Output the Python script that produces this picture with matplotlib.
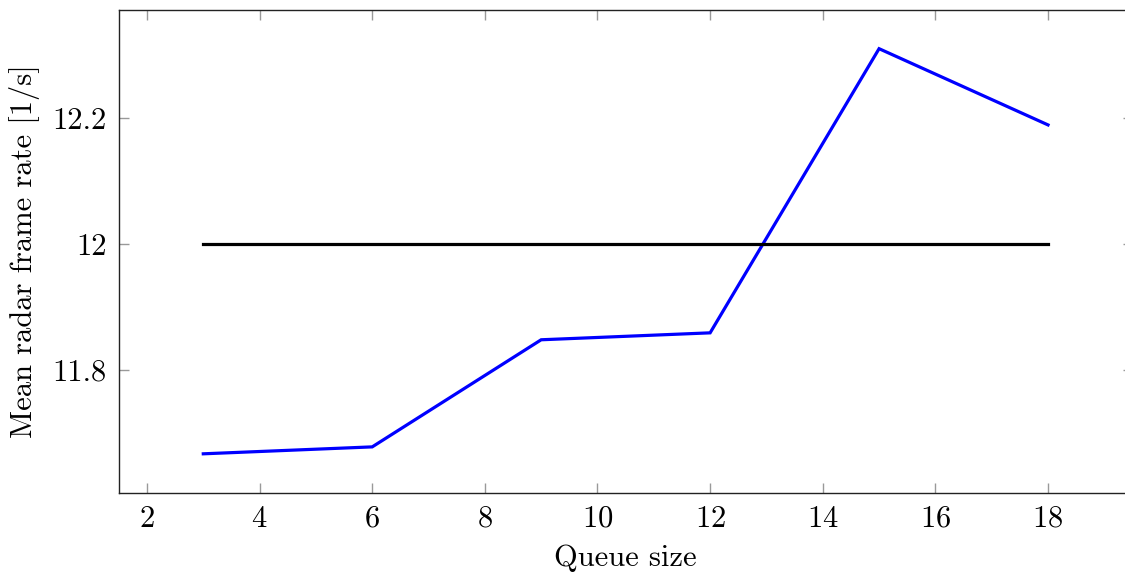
import matplotlib
matplotlib.use("Agg")
import matplotlib.pyplot as plt

# Measured mean radar frame rate for each queue size
queue_sizes = [3, 6, 9, 12, 15, 18]
frame_rate = [11.667, 11.678, 11.848, 11.859, 12.310, 12.189]
target_rate = [12, 12, 12, 12, 12, 12]

x_ticks = [2, 4, 6, 8, 10, 12, 14, 16, 18]
y_ticks = [11.8, 12.0, 12.2]
y_tick_labels = ["11.8", "12", "12.2"]

plt.rcParams["font.family"] = "serif"
plt.rcParams["font.serif"] = ["cmr10"]
plt.rcParams["mathtext.fontset"] = "cm"
plt.rcParams["axes.formatter.use_mathtext"] = True

W, H = 1125, 573
fig = plt.figure(figsize=(W / 100, H / 100), dpi=100)
left, right, top, bottom = 118.8, 1132.5, 10, 493
ax = fig.add_axes([left / W, 1 - bottom / H, (right - left) / W, (bottom - top) / H])

ax.plot(queue_sizes, frame_rate, color="#0000ff", lw=2.3, solid_joinstyle="miter")
ax.plot(queue_sizes, target_rate, color="black", lw=2.3)

ax.set_xlim(1.5, 19.5)
ax.set_ylim(11.6048, 12.3714)
ax.set_xticks(x_ticks)
ax.set_yticks(y_ticks)
ax.set_yticklabels(y_tick_labels)

ax.tick_params(direction="in", length=7, width=1.0, color="#999999",
               top=True, right=True, labelsize=22, pad=9)
for s in ax.spines.values():
    s.set_linewidth(1.0)
    s.set_color("#222222")

ax.set_xlabel("Queue size", fontsize=22, labelpad=8)
ax.set_ylabel("Mean radar frame rate [1/s]", fontsize=22, labelpad=9)

fig.savefig("out.png", dpi=100)
